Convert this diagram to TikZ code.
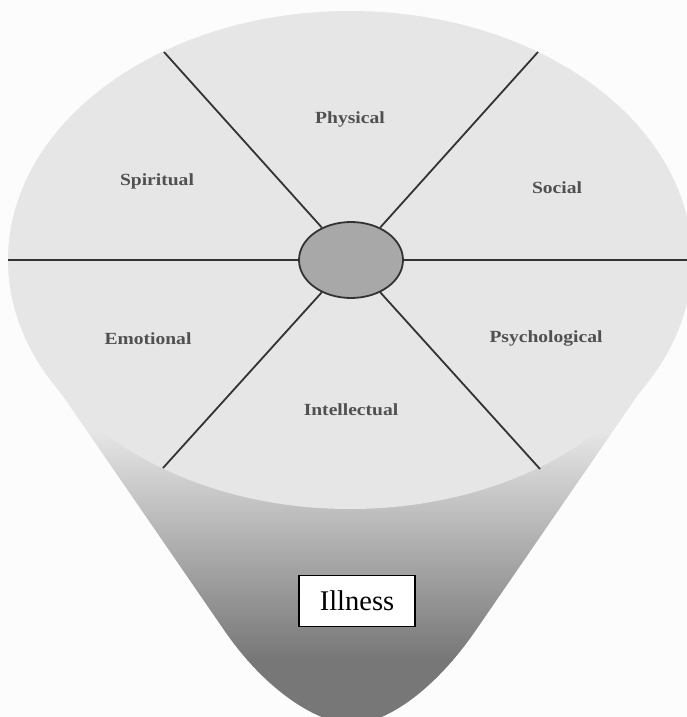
\documentclass[tikz,border=0pt]{standalone}
\usepackage{fontspec}
\setmainfont{Liberation Serif}
\usetikzlibrary{shapes.geometric}
\definecolor{bgc}{HTML}{FCFCFC}
\definecolor{discgray}{HTML}{E6E6E6}
\definecolor{conedark}{HTML}{777777}
\definecolor{linegray}{HTML}{333333}
\definecolor{hubgray}{HTML}{A8A8A8}
\definecolor{labelgray}{HTML}{505050}
\begin{document}
\begin{tikzpicture}[x=1pt,y=-1pt,
  lbl/.style={font=\fontsize{17}{17}\selectfont\bfseries, text=labelgray, inner sep=0pt},
  spoke/.style={draw=linegray, line width=1.8pt},
  hubstyle/.style={ellipse, draw=linegray, line width=1.8pt, fill=hubgray,
    minimum width=104pt, minimum height=76pt, inner sep=0pt},
  boxstyle/.style={draw=black, line width=1.6pt, fill=white,
    minimum width=116pt, minimum height=51pt, inner sep=0pt,
    font=\fontsize{28.5}{28.5}\selectfont}]
\useasboundingbox (0,0) rectangle (687,717);
\fill[bgc] (0,0) rectangle (687,717);
% cone
\begin{scope}
  \clip (46.4,372) -- (224,630) .. controls (269.4,695.9) and (322,724) .. (352,724)
        .. controls (382,724) and (430.6,695.9) .. (476,630) -- (653.6,372) -- (350,260) -- cycle;
  \fill[discgray] (0,250) rectangle (687,430);
  \shade[top color=discgray, bottom color=conedark] (0,430) rectangle (687,660);
  \fill[conedark] (0,660) rectangle (687,830);
\end{scope}
% disc
\fill[discgray] (350,260) ellipse [x radius=342, y radius=249];
% spoke ends
\coordinate (ul) at (164,52);
\coordinate (ur) at (538,52);
\coordinate (ll) at (163,468);
\coordinate (lr) at (540,469);
\coordinate (ml) at (8,260);
\coordinate (mr) at (692,260);
\node[hubstyle] (hub) at (351,260) {};
\draw[spoke] (ul) -- (hub);
\draw[spoke] (ur) -- (hub);
\draw[spoke] (ll) -- (hub);
\draw[spoke] (lr) -- (hub);
\draw[spoke] (ml) -- (hub);
\draw[spoke] (mr) -- (hub);
% labels
\node[lbl] (physical) at (350,119) {\scalebox{1.15}[1]{Physical}};
\node[lbl] (spiritual) at (157,181) {\scalebox{1.15}[1]{Spiritual}};
\node[lbl] (social) at (557,188) {\scalebox{1.15}[1]{Social}};
\node[lbl] (emotional) at (148,339) {\scalebox{1.15}[1]{Emotional}};
\node[lbl] (psych) at (546,338) {\scalebox{1.15}[1]{Psychological}};
\node[lbl] (intel) at (351,410) {\scalebox{1.15}[1]{Intellectual}};
% illness box
\node[boxstyle] (illness) at (357,601) {Illness};
\end{tikzpicture}
\end{document}
